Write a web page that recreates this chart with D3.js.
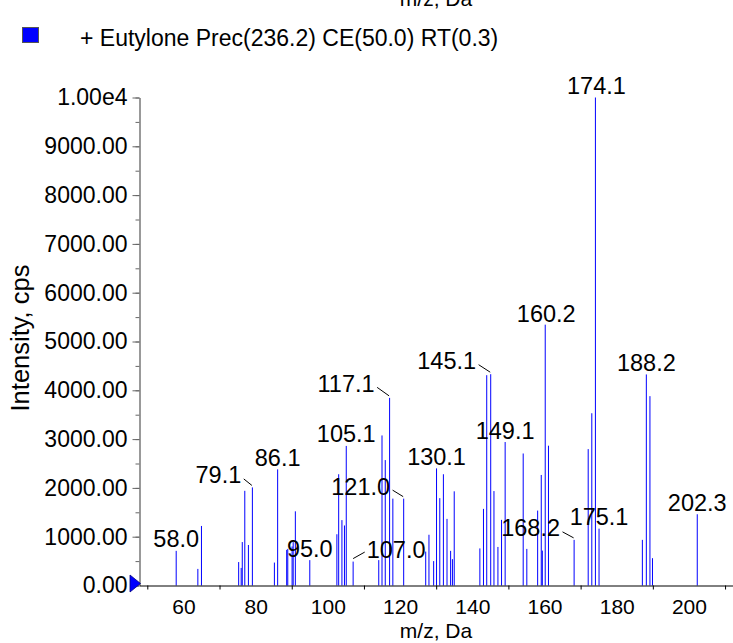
<!DOCTYPE html>
<html><head><meta charset="utf-8">
<script src="https://cdn.jsdelivr.net/npm/d3@7"></script>
<style>
body{margin:0;background:#fff}
svg{display:block}
text{font-family:Arial,"Liberation Sans",sans-serif;fill:#000}
</style>
</head><body>
<svg id="chart" width="733" height="643"></svg>
<script>
// ---- data ----
const mzValues = [58.0,64.0,65.0,75.3,76.0,76.3,77.0,78.0,79.1,85.2,86.1,88.6,88.9,90.1,90.4,91.0,95.0,
  102.5,103.0,103.9,104.6,105.1,107.0,114.1,115.0,115.9,117.1,118.0,121.0,127.1,128.0,129.3,130.1,131.0,
  132.0,133.0,134.0,134.5,135.0,142.1,143.1,144.0,145.1,146.0,147.1,148.1,149.1,154.1,155.1,158.1,159.1,
  159.4,160.2,161.1,168.2,172.1,173.1,174.1,175.1,187.1,188.2,189.2,189.9,202.3];
const intensityValues = [710,340,1220,480,360,890,1940,830,2010,470,2380,730,750,800,890,1520,520,
  1050,2280,1340,1230,2860,490,520,3075,2570,3845,1780,1780,695,1040,500,2400,1790,
  2280,1365,710,540,1930,760,1570,4310,4330,1935,790,1345,2940,2705,750,1535,2265,
  715,5345,2865,935,2795,3530,10000,1165,935,4325,3880,560,1460];
const peakLabelTexts = ["58.0","79.1","86.1","95.0","105.1","107.0","117.1","121.0","130.1","145.1",
  "149.1","160.2","168.2","174.1","175.1","188.2","202.3"];
const peakLabelMz = [58.0,79.1,86.1,95.0,105.1,107.0,117.1,121.0,130.1,145.1,
  149.1,160.2,168.2,174.1,175.1,188.2,202.3];
const xTickValues = [60,80,100,120,140,160,180,200];
const xTickLabels = ["60","80","100","120","140","160","180","200"];
const yTickValues = [0,1000,2000,3000,4000,5000,6000,7000,8000,9000,10000];
const yTickLabels = ["0.00","1000.00","2000.00","3000.00","4000.00","5000.00","6000.00","7000.00","8000.00","9000.00","1.00e4"];
const xAxisTitle = "m/z, Da";
const yAxisTitle = "Intensity, cps";
const legendText = "+ Eutylone Prec(236.2) CE(50.0) RT(0.3)";

// ---- layout ----
const FS_XT = 21, FS_YT = 23, FS_PEAK = 23.5, FS_LEG = 23, FS_YTITLE = 25.5, FS_XTITLE = 21;
const labelLayout = {
  "79.1":{dx:-34, dy:-4, lead:"right"},
  "107.0":{dx:43, dy:-3.5, lead:"left"},
  "117.1":{dx:-43.5, dy:-6, lead:"right"},
  "121.0":{dx:-43, dy:-4, lead:"right"},
  "145.1":{dx:-44, dy:-5, lead:"right"},
  "168.2":{dx:-43.5, dy:-3.5, lead:"right"},
  "160.2":{dx:1, dy:-3, lead:null},
  "174.1":{dx:1, dy:-4, lead:null}
};

const svg = d3.select("#chart");
const x = d3.scaleLinear().domain([47.84, 212.2]).range([139.5, 733]);
const y = d3.scaleLinear().domain([0, 10000]).range([585.5, 97.5]);

// clipped title from chart above
svg.append("text").attr("x", 436).attr("y", 6).attr("text-anchor","middle")
  .style("font-size", FS_XTITLE+"px").text(xAxisTitle);

// legend
svg.append("rect").attr("x",22.5).attr("y",27.5).attr("width",16).attr("height",15)
  .attr("fill","#0000ff").attr("stroke","#555").attr("stroke-width",1);
svg.append("text").attr("x",80).attr("y",46).style("font-size", FS_LEG+"px").text(legendText);

// bars
const peaks = mzValues.map((m,i)=>({m, v:intensityValues[i]}));
svg.append("g").selectAll("line").data(peaks).join("line")
  .attr("x1", d=>x(d.m)).attr("x2", d=>x(d.m))
  .attr("y1", y(0)).attr("y2", d=>y(d.v))
  .attr("stroke","#0000ff").attr("stroke-width",1);

// y axis
const yMinor = d3.range(0, 10001, 500);
const gyMinor = svg.append("g").attr("transform","translate(139.5,0)")
  .call(d3.axisLeft(y).tickValues(yMinor).tickSize(4).tickSizeOuter(0).tickFormat(""));
gyMinor.select(".domain").remove();
gyMinor.selectAll("line").attr("stroke","#666");
const gy = svg.append("g").attr("transform","translate(139.5,0)")
  .call(d3.axisLeft(y).tickValues(yTickValues).tickSize(7).tickSizeOuter(0).tickPadding(5)
    .tickFormat((d,i)=>yTickLabels[i]));
gy.select(".domain").attr("stroke","#777").attr("stroke-width",1.5);
gy.selectAll("line").attr("stroke","#666");
gy.selectAll("text").attr("font-family",null).style("font-size",FS_YT+"px");

// x axis
const gxMinor = svg.append("g").attr("transform","translate(0,585.5)")
  .call(d3.axisBottom(x).tickValues(d3.range(50,211,20)).tickSize(4).tickSizeOuter(0).tickFormat(""));
gxMinor.select(".domain").attr("stroke","#000");
gxMinor.selectAll("line").attr("stroke","#000");
const gx = svg.append("g").attr("transform","translate(0,585.5)")
  .call(d3.axisBottom(x).tickValues(xTickValues).tickSize(0).tickPadding(13.5)
    .tickFormat((d,i)=>xTickLabels[i]));
gx.select(".domain").remove();
gx.selectAll("text").attr("font-family",null).style("font-size",FS_XT+"px");

// axis titles
svg.append("text").attr("x",436).attr("y",638).attr("text-anchor","middle")
  .style("font-size",FS_XTITLE+"px").text(xAxisTitle);
svg.append("text").attr("transform","translate(29,338) rotate(-90)").attr("text-anchor","middle")
  .style("font-size",FS_YTITLE+"px").text(yAxisTitle);

// blue marker at origin
svg.append("path").attr("d", d3.line()([[130,575],[140.5,583.5],[130,592]]) + "Z")
  .attr("fill","#0000ff").attr("stroke","#000080").attr("stroke-width",0.8);

// peak labels
const gl = svg.append("g");
peakLabelTexts.forEach((t,i)=>{
  const m = peakLabelMz[i];
  const p = peaks.find(d=>Math.abs(d.m-m)<0.05);
  const lay = labelLayout[t] || {dx:0, dy:-3.5, lead:null};
  const bx = x(p.m), by = y(p.v);
  const txt = gl.append("text").attr("x", bx+lay.dx).attr("y", by+lay.dy)
    .attr("text-anchor","middle").style("font-size",FS_PEAK+"px").text(t);
  if (lay.lead) {
    const w = txt.node().getComputedTextLength();
    if (lay.lead === "right") {
      const sx = bx + lay.dx + w/2 + 2.5;
      gl.append("line").attr("x1",sx).attr("y1",by+lay.dy-4.5).attr("x2",bx-0.5).attr("y2",by-2)
        .attr("stroke","#000").attr("stroke-width",1);
    } else {
      const sx = bx + lay.dx - w/2 - 2;
      gl.append("line").attr("x1",bx).attr("y1",by-3).attr("x2",sx).attr("y2",by+lay.dy-6)
        .attr("stroke","#000").attr("stroke-width",1);
    }
  }
});
</script>
</body></html>
